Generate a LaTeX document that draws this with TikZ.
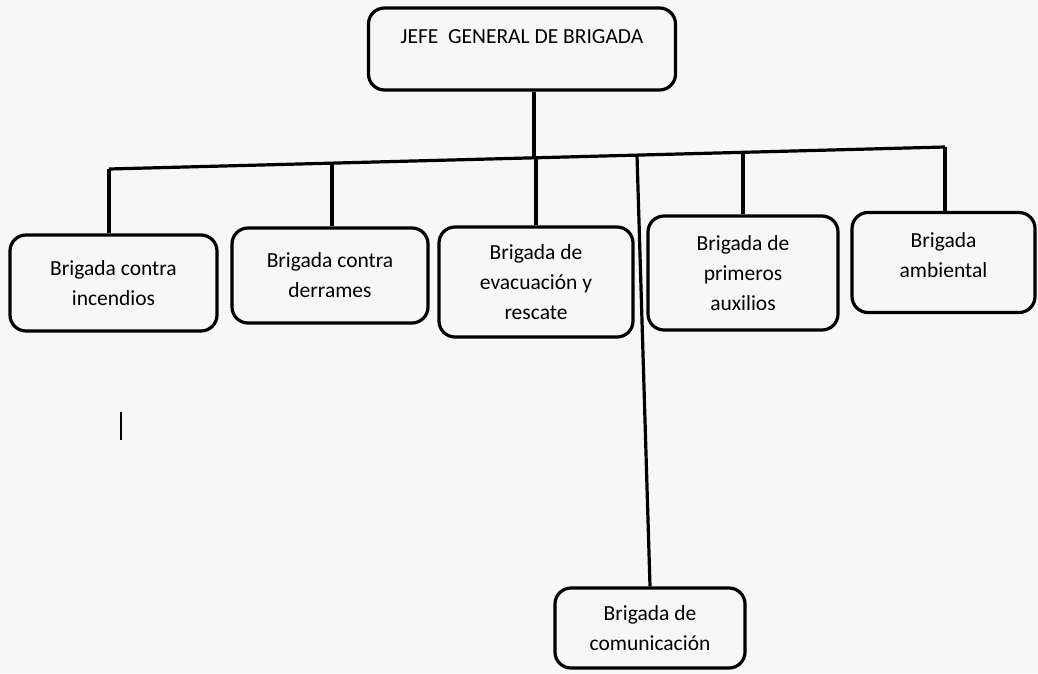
\documentclass[tikz,border=0pt]{standalone}
\usepackage{fontspec}
\setmainfont{Carlito}
\usetikzlibrary{calc}
\tikzset{
  brbox/.style={draw=black, line width=3.2pt, rounded corners=16pt, align=center,
    inner sep=0pt, font=\fontsize{21.5}{30}\selectfont, text=black},
  conn/.style={draw=black, line width=3.2pt},
}
\begin{document}
\begin{tikzpicture}[x=1pt,y=-1pt]
\useasboundingbox[fill=black!3] (0,0) rectangle (1038,673);
% boxes
\node[brbox, minimum width=307pt, text height=28pt, text depth=40pt, inner ysep=7pt] (jefe) at (522,49) {JEFE\ \ GENERAL DE BRIGADA};
\node[brbox, minimum width=207pt, minimum height=96pt] (inc) at (113.5,283) {Brigada contra\\incendios};
\node[brbox, minimum width=196pt, minimum height=95pt] (der) at (330,275.5) {Brigada contra\\derrames};
\node[brbox, minimum width=194pt, minimum height=110pt] (eva) at (536,282) {Brigada de\\evacuación y\\rescate};
\node[brbox, minimum width=190pt, minimum height=114pt] (pri) at (743,273) {Brigada de\\primeros\\auxilios};
\node[brbox, minimum width=183pt, text height=65pt, text depth=35pt] (amb) at (943.5,262.5) {Brigada\\ambiental};
\node[brbox, minimum width=190pt, minimum height=80pt] (com) at (650,628) {Brigada de\\comunicación};
% bus coordinates
\coordinate (b1) at (109,169);
\coordinate (b2) at (332,163.1);
\coordinate (bJ) at (534,157.8);
\coordinate (b3) at (536,157.75);
\coordinate (bC) at (637,155.1);
\coordinate (b4) at (743,152.3);
\coordinate (b5) at (945,147);
% connectors
\draw[conn] (b1) -- (b5);
\draw[conn] (jefe.south -| bJ) -- (bJ);
\draw[conn] (b1) -- (b1 |- inc.north);
\draw[conn] (b2) -- (b2 |- der.north);
\draw[conn] (b3) -- (b3 |- eva.north);
\draw[conn] (b4) -- (b4 |- pri.north);
\draw[conn] (b5) -- (b5 |- amb.north);
\draw[conn] (bC) -- (com.north);
% stray mark
\draw[line width=2.5pt] (121,412) -- (121,440);
\end{tikzpicture}
\end{document}
